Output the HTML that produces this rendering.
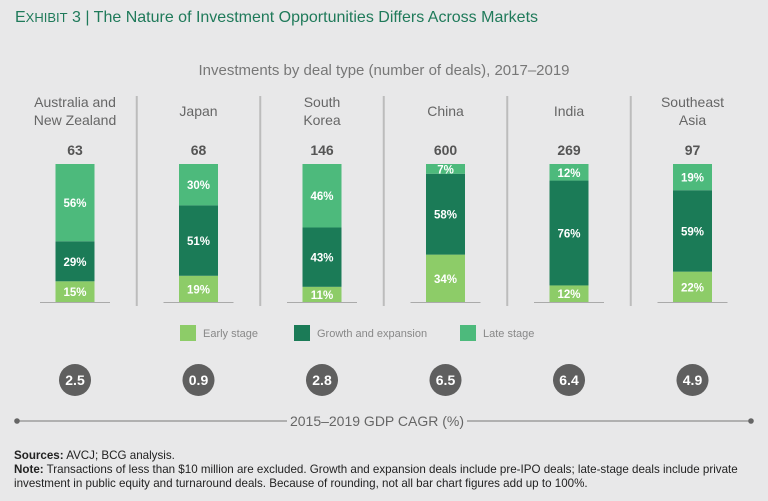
<!DOCTYPE html>
<html><head><meta charset="utf-8"><style>
body{margin:0;background:#e8e8e9;font-family:"Liberation Sans",sans-serif;}
#root{position:relative;width:768px;height:501px;overflow:hidden;background:#e8e8e9;}
.t{position:absolute;white-space:nowrap;}
</style></head><body>
<div id="root">
<div class="t" style="left:15px;top:9px;font-size:16px;color:#1f7a5a;"><span style="font-size:16px">E</span><span style="font-size:13px">XHIBIT</span> 3 | The Nature of Investment Opportunities Differs Across Markets</div>
<div class="t" style="left:0;width:768px;text-align:center;top:62px;font-size:15px;color:#777;">Investments by deal type (number of deals), 2017–2019</div>
<svg id="chart" width="768" height="501" style="position:absolute;left:0;top:0"></svg>
<div class="t" style="left:14px;top:449px;font-size:11.6px;line-height:13.8px;color:#222;"><b>Sources:</b> AVCJ; BCG analysis.<br><b>Note:</b> Transactions of less than $10 million are excluded. Growth and expansion deals include pre-IPO deals; late-stage deals include private<br>investment in public equity and turnaround deals. Because of rounding, not all bar chart figures add up to 100%.</div>
</div>
<script>
const markets=[["Australia and","New Zealand"],["Japan"],["South","Korea"],["China"],["India"],["Southeast","Asia"]];
const totals=[63,68,146,600,269,97];
const early=[15,19,11,34,12,22];
const growth=[29,51,43,58,76,59];
const late=[56,30,46,7,12,19];
const gdp=[2.5,0.9,2.8,6.5,6.4,4.9];
const seriesNames=["Early stage","Growth and expansion","Late stage"];
const colors=["#8dcc68","#1b7b57","#4dba7c"];
const svg=document.getElementById('chart');
const NS="http://www.w3.org/2000/svg";
function mk(tag,attrs,parent){const e=document.createElementNS(NS,tag);for(const k in attrs)e.setAttribute(k,attrs[k]);(parent||svg).appendChild(e);return e;}
const x0=75,step=123.5,barW=39,barTop=164,base=302;
const xc=i=>x0+i*step;
const yScale=p=>(base-barTop)*p/100;
for(let i=1;i<markets.length;i++){const l=mk('line',{x1:xc(i)-step/2,x2:xc(i)-step/2,y1:96,y2:306,stroke:'#bcbcbc','stroke-width':2});
}
markets.forEach((m,i)=>{
  const cx=xc(i);
  const lab=mk('text',{x:cx,'text-anchor':'middle','font-size':14,fill:'#666'});
  
  const ys=m.length===2?[107,125]:[116];
  m.forEach((s,j)=>{const ts=mk('tspan',{x:cx,y:ys[j]},lab);ts.textContent=s;});
  const tt=mk('text',{x:cx,y:155,'text-anchor':'middle','font-size':14,'font-weight':'bold',fill:'#555'});
  tt.textContent=totals[i];
  const vals=[early[i],growth[i],late[i]];
  const sum=vals[0]+vals[1]+vals[2];
  let y=base;
  vals.forEach((v,k)=>{
    let h=yScale(v*100/sum);
    if(k===2)h=y-barTop;
    const r=mk('rect',{x:cx-barW/2,y:y-h,width:barW,height:h,fill:colors[k]});
    
    const t=mk('text',{x:cx,y:y-h/2+4.5,'text-anchor':'middle','font-size':11.5,'font-weight':'bold',fill:'#fff'});
    t.textContent=v+'%';
    y-=h;
  });
  const bl=mk('line',{x1:cx-35,x2:cx+35,y1:base+0.5,y2:base+0.5,stroke:'#aaa','stroke-width':1});
  
  const c=mk('circle',{cx:cx,cy:380,r:16,fill:'#5f5f5f'});
  
  const ct=mk('text',{x:cx,y:385,'text-anchor':'middle','font-size':14,'font-weight':'bold',fill:'#fff'});
  ct.textContent=gdp[i].toFixed(1);
});
const lx=[180,294,460];
seriesNames.forEach((n,k)=>{
  const r=mk('rect',{x:lx[k],y:325,width:16,height:16,fill:colors[k]});
  
  const t=mk('text',{x:lx[k]+23,y:337,'font-size':11,fill:'#888'});
  t.textContent=n;
});
const a1=mk('line',{x1:17,x2:287,y1:421,y2:421,stroke:'#777','stroke-width':1});

const a2=mk('line',{x1:467,x2:751,y1:421,y2:421,stroke:'#777','stroke-width':1});

[17,751].forEach(x=>{const d=mk('circle',{cx:x,cy:421,r:2.8,fill:'#666'});});
const at=mk('text',{x:377,y:426,'text-anchor':'middle','font-size':14,fill:'#666'});
at.textContent='2015–2019 GDP CAGR (%)';
</script>
</body></html>
